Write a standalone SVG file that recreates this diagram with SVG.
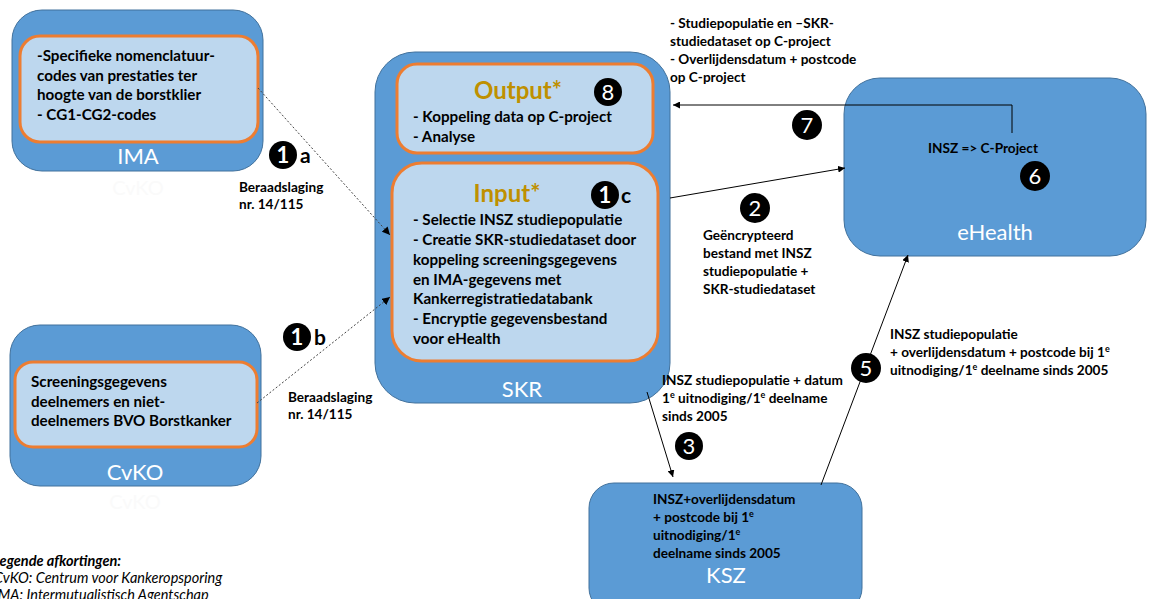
<svg xmlns="http://www.w3.org/2000/svg" width="1156" height="599" viewBox="0 0 1156 599">
<defs>
<marker id="ah" viewBox="0 0 10 10" refX="10" refY="5" markerWidth="7" markerHeight="7" markerUnits="userSpaceOnUse" orient="auto">
<path d="M0,0 L10,5 L0,10 z" fill="#000"/>
</marker>
<marker id="ahs" viewBox="0 0 10 10" refX="10" refY="5" markerWidth="8" markerHeight="8" markerUnits="userSpaceOnUse" orient="auto">
<path d="M0,0 L10,5 L0,10 z" fill="#000"/>
</marker>
</defs>
<style>
.outer{fill:#5B9BD5;stroke:#41719C;stroke-width:1}
.inner{fill:#BDD7EE;stroke:#ED7D31;stroke-width:3}
.t{font-family:Lato,"Liberation Sans",sans-serif;font-weight:bold;font-size:15.2px;fill:#000}
.s{font-family:Lato,"Liberation Sans",sans-serif;font-weight:bold;font-size:13.6px;fill:#000}
.lbl{font-family:Lato,"Liberation Sans",sans-serif;font-size:22px;fill:#fff;text-anchor:middle}
.ghost{font-family:Lato,"Liberation Sans",sans-serif;font-size:20px;fill:#fafafa;text-anchor:middle}
.gold{font-family:Lato,"Liberation Sans",sans-serif;font-weight:bold;font-size:24px;fill:#BF9000;text-anchor:middle}
.num{font-family:Lato,"Liberation Sans",sans-serif;font-size:22px;fill:#fff;text-anchor:middle}
.let{font-family:Lato,"Liberation Sans",sans-serif;font-weight:bold;font-size:21px;fill:#000}
.leg{font-family:Lato,"Liberation Sans",sans-serif;font-style:italic;font-size:14.5px;fill:#000}
.dash{stroke:#444;stroke-width:1;stroke-dasharray:2,2;fill:none}
.ln{stroke:#000;stroke-width:1;fill:none}
.sup{font-size:9px}
</style>

<g id="ima">
<rect class="outer" x="12" y="10" width="251" height="161" rx="30"/>
<rect class="inner" x="20" y="36" width="238" height="106" rx="20"/>
<text class="t" x="37" y="61">-Specifieke nomenclatuur-</text>
<text class="t" x="37" y="81">codes van prestaties ter</text>
<text class="t" x="37" y="100">hoogte van de borstklier</text>
<text class="t" x="37" y="120">- CG1-CG2-codes</text>
<text class="lbl" x="138" y="164">IMA</text>
<text class="ghost" x="138" y="195">CvKO</text>
</g>

<g id="cvko">
<rect class="outer" x="10" y="325" width="251" height="161" rx="30"/>
<rect class="inner" x="15" y="362" width="242" height="85" rx="18"/>
<text class="t" x="31" y="387">Screeningsgegevens</text>
<text class="t" x="31" y="407">deelnemers en niet-</text>
<text class="t" x="31" y="426">deelnemers BVO Borstkanker</text>
<text class="lbl" x="135" y="480">CvKO</text>
<text class="ghost" x="135" y="509">CvKO</text>
</g>

<g id="skr">
<rect class="outer" x="375" y="52" width="295" height="351" rx="40"/>
<rect class="inner" x="397" y="64" width="256" height="89" rx="20"/>
<text class="gold" x="518" y="99">Output*</text>
<circle cx="608" cy="92" r="14" fill="#000"/>
<text class="num" x="608" y="100">8</text>
<text class="t" x="413" y="122">- Koppeling data op C-project</text>
<text class="t" x="413" y="142">- Analyse</text>
<rect class="inner" x="392" y="163" width="266" height="198" rx="30"/>
<text class="gold" x="507" y="202">Input*</text>
<circle cx="605" cy="195" r="14" fill="#000"/>
<text class="num" x="605" y="203" font-weight="bold">1</text>
<text class="let" x="621" y="203">c</text>
<text class="t" x="413" y="225">- Selectie INSZ studiepopulatie</text>
<text class="t" x="413" y="245">- Creatie SKR-studiedataset door</text>
<text class="t" x="413" y="265">koppeling screeningsgegevens</text>
<text class="t" x="413" y="285">en  IMA-gegevens met</text>
<text class="t" x="413" y="304">Kankerregistratiedatabank</text>
<text class="t" x="413" y="324">- Encryptie gegevensbestand</text>
<text class="t" x="413" y="344">voor eHealth</text>
<text class="lbl" x="522" y="397">SKR</text>
</g>

<g id="ehealth">
<rect class="outer" x="844" y="78" width="302" height="178" rx="36"/>
<text class="s" x="983" y="153" text-anchor="middle">INSZ =&gt; C-Project</text>
<circle cx="1035" cy="176" r="15" fill="#000"/>
<text class="num" x="1035" y="184">6</text>
<text class="lbl" x="995" y="240">eHealth</text>
</g>

<g id="ksz">
<rect class="outer" x="589" y="483" width="273" height="130" rx="25"/>
<text class="s" x="653" y="504">INSZ+overlijdensdatum</text>
<text class="s" x="653" y="522">+ postcode bij 1<tspan class="sup" dy="-5">e</tspan></text>
<text class="s" x="653" y="540">uitnodiging/1<tspan class="sup" dy="-5">e</tspan></text>
<text class="s" x="653" y="558">deelname sinds 2005</text>
<text class="lbl" x="726" y="583">KSZ</text>
</g>

<g id="connectors">
<path class="dash" d="M258,88 L390,235" marker-end="url(#ahs)"/>
<path class="dash" d="M257,403 L390,297" marker-end="url(#ahs)"/>
<path class="ln" d="M670,198 L845,168" marker-end="url(#ah)"/>
<path class="ln" d="M647,392 L673,477" marker-end="url(#ah)"/>
<path class="ln" d="M821,485 L908,255" marker-end="url(#ah)"/>
<path class="ln" d="M1012,133 L1012,105 L673,105" marker-end="url(#ah)"/>
</g>

<g id="labels">
<circle cx="283" cy="155" r="14" fill="#000"/>
<text class="num" x="283" y="163" font-weight="bold">1</text>
<text class="let" x="300" y="163">a</text>
<text class="s" x="239" y="192">Beraadslaging</text>
<text class="s" x="239" y="209">nr. 14/115</text>

<circle cx="297" cy="337" r="14" fill="#000"/>
<text class="num" x="297" y="345" font-weight="bold">1</text>
<text class="let" x="314" y="345">b</text>
<text class="s" x="288" y="402">Beraadslaging</text>
<text class="s" x="288" y="419">nr. 14/115</text>

<text class="s" x="670" y="28">- Studiepopulatie en –SKR-</text>
<text class="s" x="670" y="46">studiedataset op C-project</text>
<text class="s" x="670" y="64">- Overlijdensdatum + postcode</text>
<text class="s" x="670" y="82">op C-project</text>
<circle cx="807" cy="125" r="15" fill="#000"/>
<text class="num" x="807" y="133">7</text>

<circle cx="755" cy="208" r="15" fill="#000"/>
<text class="num" x="755" y="216">2</text>
<text class="s" x="703" y="240">Geëncrypteerd</text>
<text class="s" x="703" y="258">bestand met INSZ</text>
<text class="s" x="703" y="276">studiepopulatie +</text>
<text class="s" x="703" y="294">SKR-studiedataset</text>

<text class="s" x="662" y="385">INSZ studiepopulatie + datum</text>
<text class="s" x="662" y="403">1<tspan class="sup" dy="-5">e</tspan><tspan dy="5"> uitnodiging/1</tspan><tspan class="sup" dy="-5">e</tspan><tspan dy="5"> deelname</tspan></text>
<text class="s" x="662" y="421">sinds 2005</text>
<circle cx="689" cy="446" r="14" fill="#000"/>
<text class="num" x="689" y="454">3</text>

<circle cx="866" cy="368" r="15" fill="#000"/>
<text class="num" x="866" y="376">5</text>
<text class="s" x="890" y="339">INSZ studiepopulatie</text>
<text class="s" x="890" y="357">+ overlijdensdatum + postcode bij 1<tspan class="sup" dy="-5">e</tspan></text>
<text class="s" x="890" y="375">uitnodiging/1<tspan class="sup" dy="-5">e</tspan><tspan dy="5"> deelname sinds 2005</tspan></text>

<text class="leg" x="-7" y="566" font-weight="bold">Legende afkortingen:</text>
<text class="leg" x="-6" y="583">CvKO: Centrum voor Kankeropsporing</text>
<text class="leg" x="-6" y="600">IMA: Intermutualistisch Agentschap</text>
</g>
</svg>
